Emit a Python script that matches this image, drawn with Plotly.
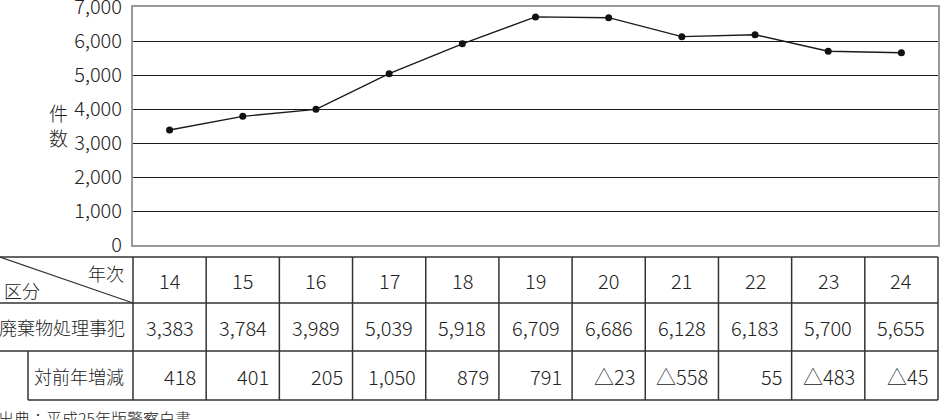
import plotly.graph_objects as go

years = ["14", "15", "16", "17", "18", "19", "20", "21", "22", "23", "24"]
cases = [3383, 3784, 3989, 5039, 5918, 6709, 6686, 6128, 6183, 5700, 5655]
case_labels = ["3,383", "3,784", "3,989", "5,039", "5,918", "6,709", "6,686",
               "6,128", "6,183", "5,700", "5,655"]
change_labels = ["418", "401", "205", "1,050", "879", "791", "△23", "△558",
                 "55", "△483", "△45"]
y_ticks = [0, 1000, 2000, 3000, 4000, 5000, 6000, 7000]
y_ticktext = ["0", "1,000", "2,000", "3,000", "4,000", "5,000", "6,000", "7,000"]

W, H = 945, 420
L, R, T, B = 133, 7, 7, 175
PW, PH = W - L - R, H - T - B
FONT = "Noto Sans CJK JP"
NUMFONT = "Noto Sans CJK JP"
TXT = "#222222"
LINE = "#333333"
NUMSIZE = 20
NUMW = 300

def py(p):  # pixel y -> paper y
    return (H - B - p) / PH

def px(p):  # pixel x -> paper x
    return (p - L) / PW

n = len(years)

fig = go.Figure()
fig.add_trace(go.Scatter(
    x=years, y=cases, mode="lines+markers",
    line=dict(color="#1a1a1a", width=1.4),
    marker=dict(color="#111111", size=7),
    hoverinfo="skip", showlegend=False, cliponaxis=False,
))

shapes = []
for yy, x0 in [(257, 0), (303, 0), (351, 0), (400, 28)]:
    shapes.append(dict(type="line", xref="paper", yref="paper",
                       x0=px(x0), x1=1, y0=py(yy), y1=py(yy),
                       line=dict(color=LINE, width=1.5)))
for k in range(n + 1):
    xp = k / n
    shapes.append(dict(type="line", xref="paper", yref="paper",
                       x0=xp, x1=xp, y0=py(257), y1=py(400),
                       line=dict(color=LINE, width=1.5)))
shapes.append(dict(type="line", xref="paper", yref="paper",
                   x0=px(28), x1=px(28), y0=py(351), y1=py(400),
                   line=dict(color=LINE, width=1.5)))
shapes.append(dict(type="line", xref="paper", yref="paper",
                   x0=px(0), x1=0, y0=py(257), y1=py(303),
                   line=dict(color=LINE, width=1.2)))

numfont = dict(family=NUMFONT, size=NUMSIZE, color=TXT, weight=NUMW)
ann = []
for i in range(n):
    ann.append(dict(x=i, y=py(280), xref="x", yref="paper", text=years[i],
                    showarrow=False, xanchor="center", yanchor="middle", font=numfont))
    ann.append(dict(x=i, y=py(327), xref="x", yref="paper", text=case_labels[i],
                    showarrow=False, xanchor="center", yanchor="middle", font=numfont))
    ann.append(dict(x=i + 0.5, y=py(376), xref="x", yref="paper", text=change_labels[i],
                    showarrow=False, xanchor="right", yanchor="middle", xshift=-8,
                    font=numfont))

jp = dict(family=FONT, size=18, color=TXT, weight=NUMW)
ann += [
    dict(x=px(126), y=py(273), xref="paper", yref="paper", text="年次",
         showarrow=False, xanchor="right", yanchor="middle", font=jp),
    dict(x=px(2), y=py(290), xref="paper", yref="paper", text="区分",
         showarrow=False, xanchor="left", yanchor="middle", font=jp),
    dict(x=px(127), y=py(327), xref="paper", yref="paper", text="廃棄物処理事犯",
         showarrow=False, xanchor="right", yanchor="middle", font=jp),
    dict(x=px(126), y=py(376), xref="paper", yref="paper", text="対前年増減",
         showarrow=False, xanchor="right", yanchor="middle", font=jp),
    dict(x=px(-4), y=py(404), xref="paper", yref="paper", text="出典：平成25年版警察白書",
         showarrow=False, xanchor="left", yanchor="top",
         font=dict(family=FONT, size=16, color=TXT, weight=NUMW)),
    dict(x=px(58), y=py(125), xref="paper", yref="paper", text="件<br>数",
         showarrow=False, xanchor="center", yanchor="middle",
         font=dict(family=FONT, size=19, color=TXT, weight=NUMW)),
]

fig.update_layout(
    width=W, height=H,
    margin=dict(l=L, r=R, t=T, b=B, pad=0, autoexpand=False),
    paper_bgcolor="white", plot_bgcolor="white",
    shapes=shapes, annotations=ann,
    showlegend=False,
    xaxis=dict(type="category", range=[-0.5, n - 0.5], showticklabels=False,
               showgrid=False, zeroline=False, showline=True, mirror=True,
               linecolor="#999999", linewidth=2, ticks="", automargin=False),
    yaxis=dict(range=[0, 7000], tickvals=y_ticks, ticktext=y_ticktext,
               showgrid=True, gridcolor="#1a1a1a", gridwidth=1.3, zeroline=False,
               showline=True, mirror=True, linecolor="#999999", linewidth=2,
               ticks="", ticklabelstandoff=5, ticklabeloverflow="allow",
               automargin=False, tickfont=numfont),
)

fig.write_html("out.html")
